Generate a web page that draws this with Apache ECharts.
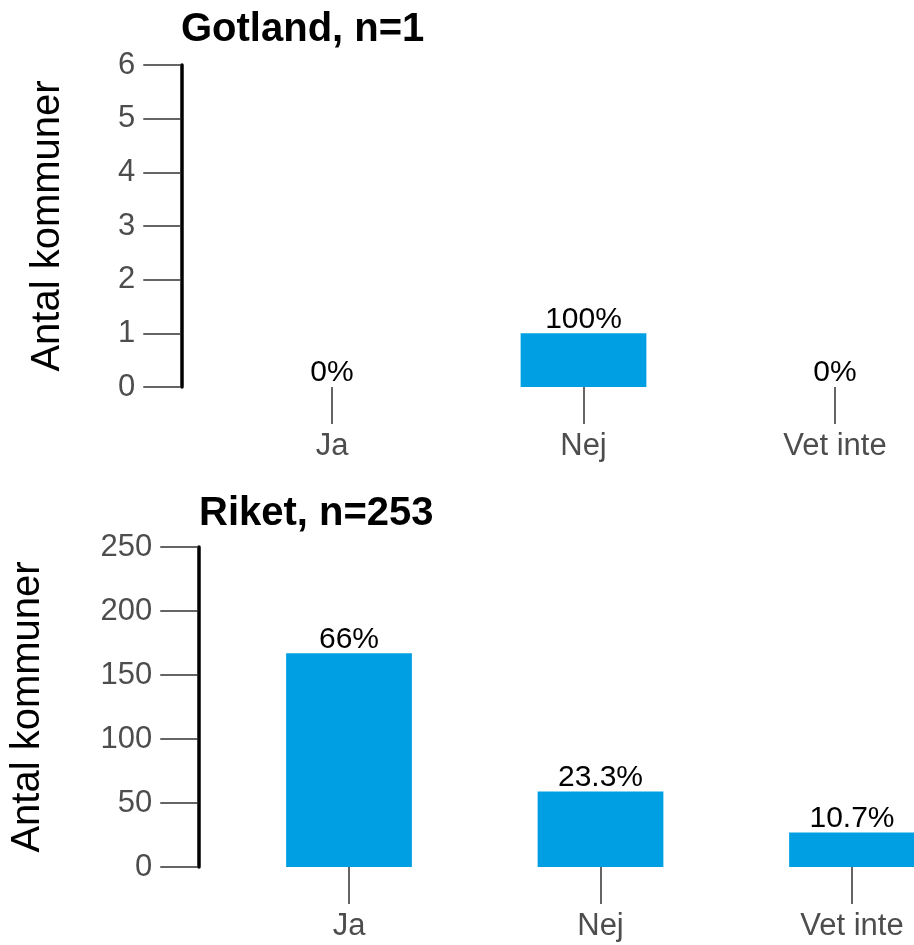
<!DOCTYPE html>
<html>
<head>
<meta charset="utf-8">
<script src="https://cdn.jsdelivr.net/npm/echarts@6/dist/echarts.min.js"></script>
<style>
html,body{margin:0;padding:0;background:#fff;}
#chart{width:914px;height:945px;}
</style>
</head>
<body>
<div id="chart"></div>
<script>
const categories = ['Ja', 'Nej', 'Vet inte'];
const gotlandValues = [0, 1, 0];
const riketValues = [167, 59, 27];
const gotlandTitle = 'Gotland, n=1';
const riketTitle = 'Riket, n=253';
const yAxisName = 'Antal kommuner';
const gotlandTicks = {min: 0, max: 6, interval: 1};
const riketTicks = {min: 0, max: 250, interval: 50};

const FONT = '"Liberation Sans", Arial, sans-serif';
const BAR = '#009FE3';

function pctFormatter(values) {
  const total = values.reduce((a, b) => a + b, 0);
  return function (p) {
    const v = Math.round(p.value / total * 1000) / 10;
    return (Number.isInteger(v) ? v.toFixed(0) : v.toFixed(1)) + '%';
  };
}

function xAxis(gridIndex) {
  return {
    type: 'category', gridIndex: gridIndex, data: categories,
    axisLine: {show: false},
    axisTick: {show: true, alignWithLabel: true, length: 37, lineStyle: {color: '#333', width: 1.5}},
    axisLabel: {fontFamily: FONT, fontSize: 31, color: '#4D4D4D', margin: 44}
  };
}
function yAxis(gridIndex, t, gap) {
  return {
    type: 'value', gridIndex: gridIndex, min: t.min, max: t.max, interval: t.interval,
    offset: 25,
    name: yAxisName, nameLocation: 'middle', nameRotate: 90, nameGap: gap,
    nameTextStyle: {fontFamily: FONT, fontSize: 40, color: '#000'},
    axisLine: {show: true, lineStyle: {color: '#000', width: 3.5}},
    axisTick: {show: true, length: 38, lineStyle: {color: '#333', width: 1.5}},
    axisLabel: {fontFamily: FONT, fontSize: 31, color: '#4D4D4D', margin: 46},
    splitLine: {show: false}
  };
}
function series(idx, values) {
  return {
    type: 'bar', xAxisIndex: idx, yAxisIndex: idx, data: values, barWidth: '50%',
    itemStyle: {color: BAR},
    label: {show: true, position: 'top', distance: -1, fontFamily: FONT, fontSize: 30, color: '#000',
      formatter: pctFormatter(values)},
    silent: true, animation: false
  };
}

const chart = echarts.init(document.getElementById('chart'), null, {renderer: 'canvas'});
chart.setOption({
  animation: false,
  backgroundColor: '#fff',
  title: [
    {text: gotlandTitle, left: 176, top: 5, textStyle: {fontFamily: FONT, fontSize: 40, fontWeight: 'bold', color: '#000'}},
    {text: riketTitle, left: 194, top: 489, textStyle: {fontFamily: FONT, fontSize: 40, fontWeight: 'bold', color: '#000'}}
  ],
  grid: [
    {left: 206.25, width: 754.5, top: 65, height: 322, outerBoundsMode: 'none', containLabel: false},
    {left: 223.25, width: 754.5, top: 547, height: 320, outerBoundsMode: 'none', containLabel: false}
  ],
  xAxis: [xAxis(0), xAxis(1)],
  yAxis: [yAxis(0, gotlandTicks, 113), yAxis(1, riketTicks, 150)],
  series: [series(0, gotlandValues), series(1, riketValues)]
});
</script>
</body>
</html>
